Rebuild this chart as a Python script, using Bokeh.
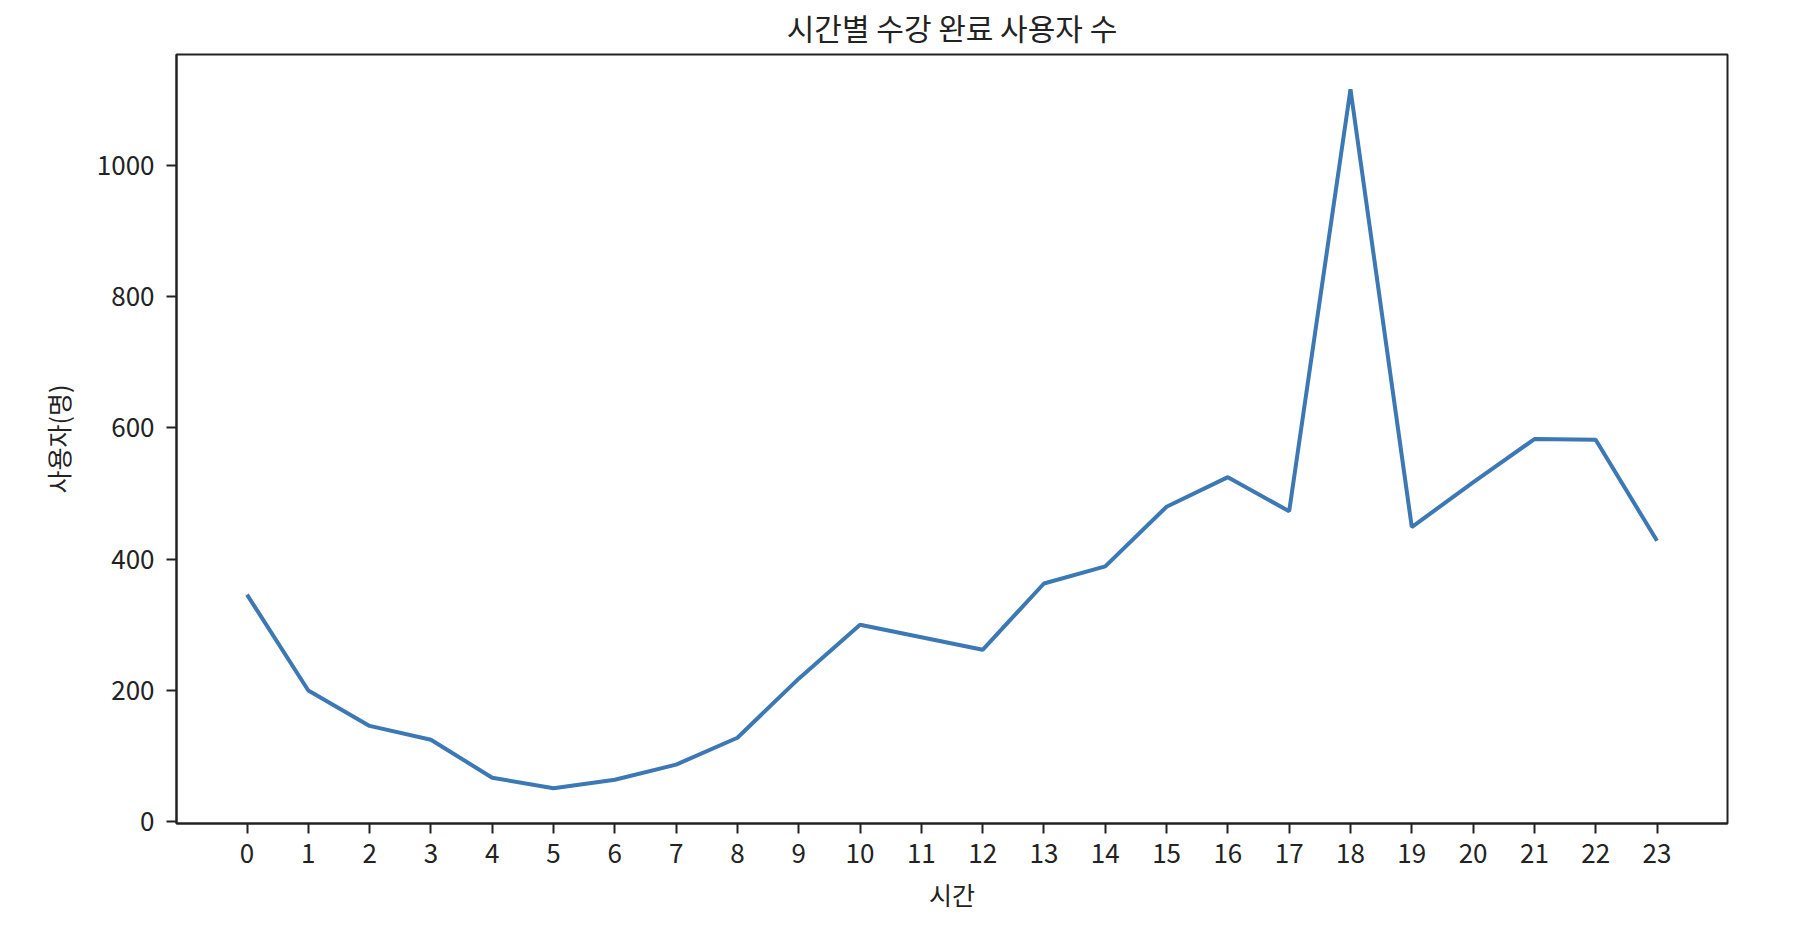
from bokeh.plotting import figure
from bokeh.models import FixedTicker, Range1d
from bokeh.embed import file_html
from bokeh.resources import INLINE

hours = [0, 1, 2, 3, 4, 5, 6, 7, 8, 9, 10, 11, 12, 13, 14, 15, 16, 17, 18, 19, 20, 21, 22, 23]
users = [346, 200, 146, 125, 67, 51, 64, 87, 128, 218, 300, 281, 262, 363, 389, 480, 525, 473, 1116, 449, 517, 583, 582, 428]
y_ticks = [0, 200, 400, 600, 800, 1000]

title_text = "시간별 수강 완료 사용자 수"
x_label = "시간"
y_label = "사용자(명)"

FONT = "Noto Sans CJK KR"
TXT = "#222222"

p = figure(width=1808, height=922, output_backend="svg", toolbar_location=None,
           x_range=Range1d(-1.15, 24.15), y_range=Range1d(-2.7, 1169),
           min_border_left=176, min_border_right=81, min_border_top=53, min_border_bottom=99)

p.line(hours, users, line_color="#3b78b4", line_width=4)

p.title.text = title_text
p.title.text_font = FONT
p.title.text_font_size = "30px"
p.title.text_font_style = "normal"
p.title.text_color = TXT
p.title.align = "center"
p.title.vertical_align = "top"
p.title.standoff = 8

p.xgrid.visible = False
p.ygrid.visible = False
p.outline_line_color = "#222222"
p.outline_line_width = 2
p.outline_line_alpha = 1

for ax in (p.xaxis[0], p.yaxis[0]):
    ax.axis_line_color = "#222222"
    ax.axis_line_width = 2
    ax.major_tick_line_color = "#222222"
    ax.major_tick_line_width = 2
    ax.major_tick_in = 0
    ax.major_tick_out = 10
    ax.minor_tick_line_color = None
    ax.major_label_text_font = FONT
    ax.major_label_text_font_size = "26px"
    ax.major_label_text_color = TXT
    ax.axis_label_text_font = FONT
    ax.axis_label_text_font_size = "25px"
    ax.axis_label_text_font_style = "normal"
    ax.axis_label_text_color = TXT

p.xaxis.ticker = FixedTicker(ticks=hours)
p.yaxis.ticker = FixedTicker(ticks=y_ticks)
p.xaxis.axis_label = x_label
p.yaxis.axis_label = y_label
p.xaxis.major_label_standoff = 10
p.yaxis.major_label_standoff = 12
p.xaxis.axis_label_standoff = 10
p.yaxis.axis_label_standoff = 18

open("out.html", "w").write(file_html(p, INLINE))
